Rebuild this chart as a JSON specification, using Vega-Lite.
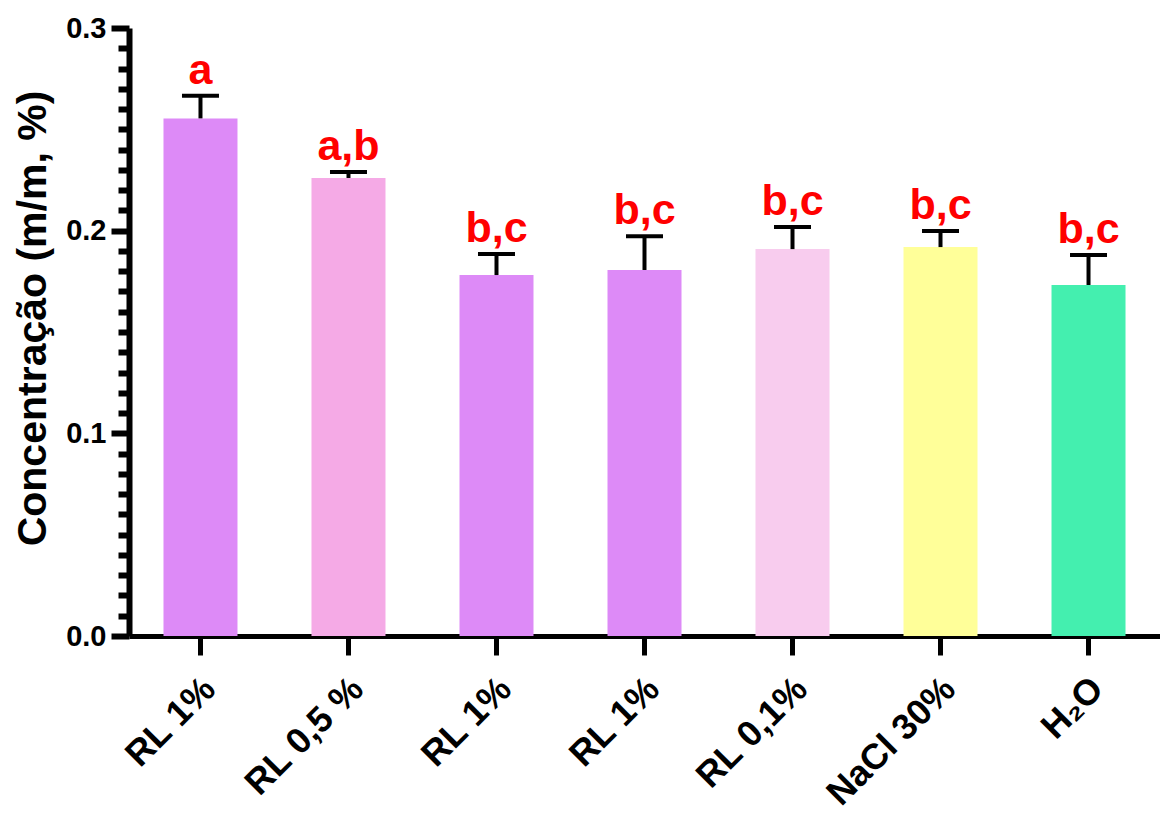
{
  "$schema": "https://vega.github.io/schema/vega-lite/v6.json",
  "autosize": {"type": "none"},
  "padding": {"left": 129, "top": 28, "right": 0, "bottom": 180},
  "width": 1031,
  "height": 608,
  "background": "white",
  "config": {
    "view": {"stroke": null},
    "font": "Liberation Sans",
    "axis": {"domainWidth": 5, "domainColor": "black", "tickWidth": 5, "tickColor": "black", "grid": false, "labelColor": "black", "titleColor": "black"}
  },
  "data": {
    "values": [
      {"id": "1", "grupo": "RL 1%", "media": 0.2554, "sup": 0.2666, "letra": "a"},
      {"id": "2", "grupo": "RL 0,5 %", "media": 0.2260, "sup": 0.2289, "letra": "a,b"},
      {"id": "3", "grupo": "RL 1%", "media": 0.1781, "sup": 0.1885, "letra": "b,c"},
      {"id": "4", "grupo": "RL 1%", "media": 0.1806, "sup": 0.1973, "letra": "b,c"},
      {"id": "5", "grupo": "RL 0,1%", "media": 0.1909, "sup": 0.2018, "letra": "b,c"},
      {"id": "6", "grupo": "NaCl 30%", "media": 0.1919, "sup": 0.1998, "letra": "b,c"},
      {"id": "7", "grupo": "H₂O", "media": 0.1732, "sup": 0.1880, "letra": "b,c"}
    ]
  },
  "encoding": {
    "x": {
      "field": "id",
      "type": "nominal",
      "sort": null,
      "scale": {"paddingInner": 0.5, "paddingOuter": 0.233},
      "axis": {
        "title": null,
        "labelExpr": "['RL 1%','RL 0,5 %','RL 1%','RL 1%','RL 0,1%','NaCl 30%','H₂O'][toNumber(datum.value)-1]",
        "labelAngle": -45,
        "labelAlign": "right",
        "labelBaseline": "middle",
        "labelFontSize": 36,
        "labelFontWeight": "bold",
        "labelPadding": 28,
        "labelOffset": 9,
        "tickSize": 19,
        "tickWidth": 5,
        "domainWidth": 5
      }
    }
  },
  "resolve": {"axis": {"y": "independent"}},
  "layer": [
    {
      "mark": {"type": "bar"},
      "encoding": {
        "y": {
          "field": "media",
          "type": "quantitative",
          "title": "Concentração (m/m, %)",
          "scale": {"domain": [0, 0.3], "nice": false},
          "axis": {
            "orient": "left",
            "values": [0, 0.1, 0.2, 0.3],
            "format": ".1f",
            "labelFontSize": 29,
            "labelFontWeight": "bold",
            "labelPadding": 5,
            "tickSize": 18,
            "tickWidth": 6,
            "domainWidth": 6,
            "titleFontSize": 41,
            "titleFontWeight": "bold",
            "titlePadding": 11,
            "titleY": 290
          }
        },
        "color": {
          "field": "grupo",
          "type": "nominal",
          "scale": {
            "domain": ["RL 1%", "RL 0,5 %", "RL 0,1%", "NaCl 30%", "H₂O"],
            "range": ["#DD8AF7", "#F5AAE6", "#F8CCEE", "#FFFF99", "#44EFAF"]
          },
          "legend": null
        }
      }
    },
    {
      "mark": {"type": "rule", "strokeWidth": 4, "color": "black"},
      "encoding": {
        "y": {
          "field": "media",
          "type": "quantitative",
          "axis": {
            "orient": "left",
            "title": null,
            "values": [0.01, 0.02, 0.03, 0.04, 0.05, 0.06, 0.07, 0.08, 0.09, 0.11, 0.12, 0.13, 0.14, 0.15, 0.16, 0.17, 0.18, 0.19, 0.21, 0.22, 0.23, 0.24, 0.25, 0.26, 0.27, 0.28, 0.29],
            "labels": false,
            "domain": false,
            "tickSize": 11,
            "tickWidth": 6
          }
        },
        "y2": {"field": "sup"}
      }
    },
    {
      "mark": {"type": "tick", "thickness": 4, "size": 37, "color": "black", "opacity": 1},
      "encoding": {
        "y": {"field": "sup", "type": "quantitative", "axis": null}
      }
    },
    {
      "mark": {"type": "text", "color": "#FF0000", "fontSize": 43, "fontWeight": "bold", "dy": -12, "baseline": "alphabetic"},
      "encoding": {
        "y": {"field": "sup", "type": "quantitative", "axis": null},
        "text": {"field": "letra"}
      }
    }
  ]
}
